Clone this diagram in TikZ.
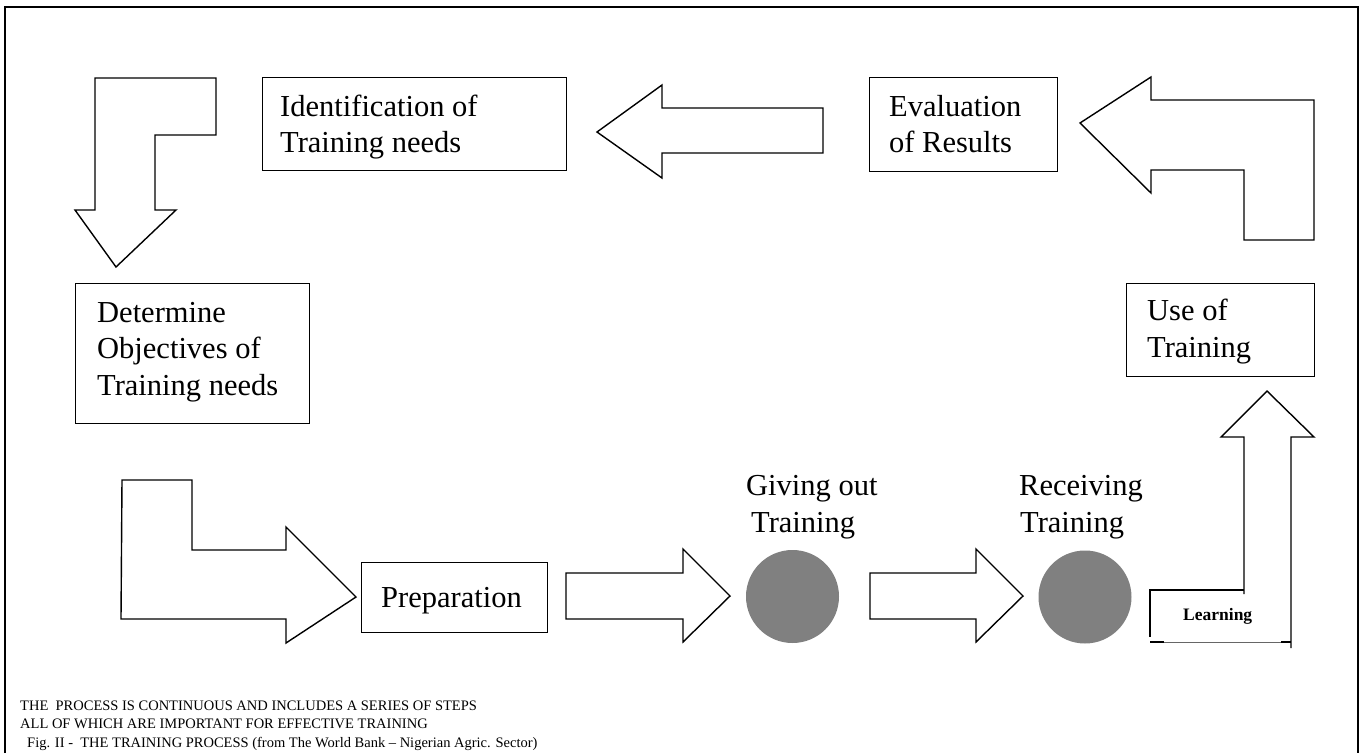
\documentclass[tikz,border=0pt]{standalone}
\usepackage{fontspec}
\setmainfont{Liberation Serif}
\definecolor{dotgray}{RGB}{128,128,128}
\begin{document}
\begin{tikzpicture}[x=1pt,y=-1pt,
  frameline/.style={line width=2pt,black},
  blockarrow/.style={line width=1.4pt,black,line join=miter},
  box/.style={draw,line width=1.4pt,anchor=north west,inner sep=0pt},
  txt/.style={anchor=base west,inner sep=0pt,font=\fontsize{30.5}{36}\selectfont},
  small/.style={anchor=base west,inner sep=0pt,font=\fontsize{14.5}{17}\selectfont},
  dot/.style={circle,fill=dotgray,draw=none,minimum size=93pt,inner sep=0pt}]
\useasboundingbox (0,0) rectangle (1361,753);
% outer frame (open at bottom)
\draw[frameline] (5,753) -- (5,7) -- (1358,7) -- (1358,753);

% boxes
\node[box,minimum width=304pt,minimum height=93pt] (ident) at (262,77) {};
\node[txt] (identA) at (280,116) {Identification of};
\node[txt] (identB) at (280,152) {Training needs};

\node[box,minimum width=188pt,minimum height=94pt] (eval) at (869,77) {};
\node[txt] (evalA) at (889,116) {Evaluation};
\node[txt] (evalB) at (889,152) {of Results};

\node[box,minimum width=234pt,minimum height=140pt] (determ) at (75,283) {};
\node[txt] (detA) at (97,322) {Determine};
\node[txt] (detB) at (97,358) {Objectives of};
\node[txt] (detC) at (97,395) {Training needs};

\node[box,minimum width=188pt,minimum height=93pt] (use) at (1126,283) {};
\node[txt] (useA) at (1147,320) {Use of};
\node[txt] (useB) at (1147,357) {Training};

\node[box,minimum width=186pt,minimum height=70pt] (prep) at (361,562) {};
\node[txt] (prepT) at (381,607) {Preparation};

% circles
\node[dot] (give) at (792.5,596.5) {};
\node[txt] (giveA) at (746,495) {Giving out};
\node[txt] (giveB) at (751,532) {Training};
\node[dot] (recv) at (1085,597) {};
\node[txt] (recvA) at (1019,495) {Receiving};
\node[txt] (recvB) at (1020,532) {Training};

% top-left bent arrow (down)
\draw[blockarrow] (95,78) -- (216,78) -- (216,135) -- (155,135) -- (155,210) -- (176,210)
  -- (116,267) -- (75,210) -- (95,210) -- cycle;

% top middle arrow (left)
\draw[blockarrow] (823,108) -- (662,108) -- (662,85) -- (597,132) -- (662,178) -- (662,153)
  -- (823,153) -- cycle;

% top-right bent arrow (left)
\draw[blockarrow] (1314,100) -- (1151,100) -- (1151,77) -- (1080,123) -- (1151,193) -- (1151,170)
  -- (1244,170) -- (1244,240) -- (1314,240) -- cycle;

% bottom-left bent arrow (right)
\draw[blockarrow] (122,480) -- (192,480) -- (192,550) -- (286,550) -- (286,527) -- (356,597)
  -- (286,643) -- (286,619) -- (121,619) -- cycle;

% preparation -> giving out
\draw[blockarrow] (566,573) -- (683,573) -- (683,549) -- (730,596) -- (683,642) -- (683,619)
  -- (566,619) -- cycle;

% giving out -> receiving
\draw[blockarrow] (870,573) -- (976,573) -- (976,549) -- (1023,596) -- (976,642) -- (976,619)
  -- (870,619) -- cycle;

% learning -> use of training (up arrow)
\draw[blockarrow] (1244,594) -- (1244,437) -- (1221,437) -- (1267,391) -- (1314,437) -- (1291,437) -- (1291,648);
\draw[blockarrow] (1244,590) -- (1150,590) -- (1150,637);
\draw[line width=0.8pt,black!60] (1150,642) -- (1291,642);
\draw[line width=1.4pt] (1150,642) -- (1164,642);
\draw[line width=1.4pt] (1281,642) -- (1291,642);
\node[anchor=base west,inner sep=0pt,font=\fontsize{17.5}{20}\selectfont\bfseries] (learn) at (1183,620) {Learning};

% notes
\node[small] (noteA) at (20,710) {THE\ \ PROCESS IS CONTINUOUS AND INCLUDES A SERIES OF STEPS};
\node[small] (noteB) at (20,728) {ALL OF WHICH ARE IMPORTANT FOR EFFECTIVE TRAINING};
\node[small] (noteC) at (27,747) {Fig. II -\ \ THE TRAINING PROCESS (from The World Bank – Nigerian Agric. Sector)};
\end{tikzpicture}
\end{document}
